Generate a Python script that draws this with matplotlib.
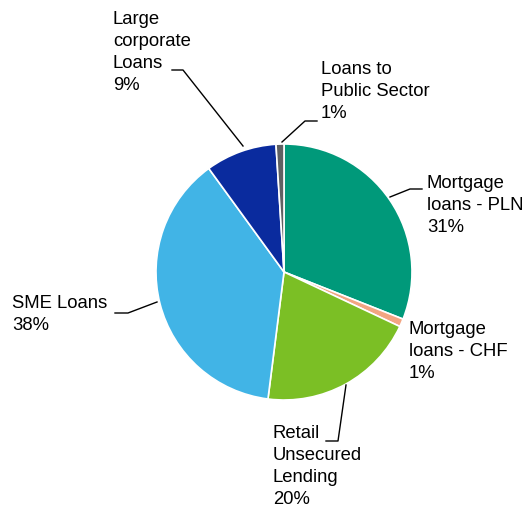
import matplotlib
matplotlib.use("Agg")
from matplotlib import pyplot as plt

labels = ["Mortgage\nloans - PLN", "Mortgage\nloans - CHF", "Retail\nUnsecured\nLending",
          "SME Loans", "Large\ncorporate\nLoans", "Loans to\nPublic Sector"]
shares = [31, 1, 20, 38, 9, 1]
colors = ["#00997A", "#F2A582", "#7BBF25", "#41B4E6", "#0A2B9E", "#5F6062"]

plt.rcParams["font.family"] = ["Liberation Sans", "DejaVu Sans"]

W, H = 528, 508
CX, CY, R = 284, 272, 128  # pie centre / radius in pixels


def px(x, y):
    # pixel (from top-left) -> data coords, radius = 1
    return (x - CX) / R, (CY - y) / R


fig = plt.figure(figsize=(W / 100, H / 100), dpi=100)
ax = fig.add_axes([0, 0, 1, 1])
ax.pie(shares, colors=colors, startangle=90, counterclock=False, radius=1,
       wedgeprops=dict(edgecolor="white", linewidth=1.2))
ax.set_xlim(px(0, 0)[0], px(W, 0)[0])
ax.set_ylim(px(0, H)[1], px(0, 0)[1])
ax.set_aspect("equal")
ax.axis("off")

# text top-left corner and leader points (pixels)
text_pos = [(427, 175), (409, 321), (273, 425), (12, 295), (113, 11), (321, 61)]
leaders = [
    [(422, 189), (410, 189), (390, 197)],
    None,
    [(326, 441), (338, 441), (346, 385)],
    [(115, 313), (128, 313), (157, 302)],
    [(172, 70), (183, 70), (243, 146)],
    [(317, 121), (305, 121), (282, 142)],
]

for lab, val, (tx, ty), ld in zip(labels, shares, text_pos, leaders):
    x, y = px(tx, ty)
    ax.text(x, y, f"{lab}\n{val}%", ha="left", va="top", fontsize=13.3,
            linespacing=1.38, color="black")
    if ld:
        xs, ys = zip(*[px(a, b) for a, b in ld])
        ax.plot(xs, ys, color="black", lw=1)

fig.savefig("out.png", dpi=100)
